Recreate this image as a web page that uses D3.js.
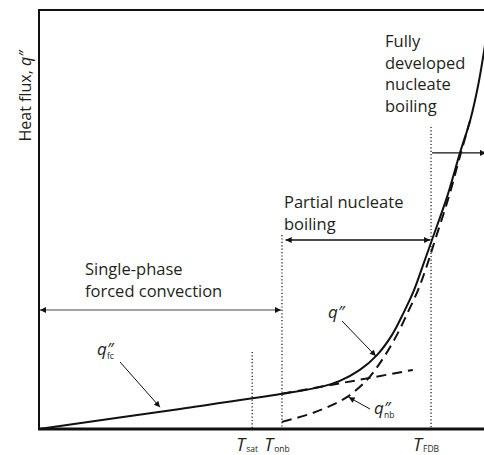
<!DOCTYPE html>
<html>
<head>
<meta charset="utf-8">
<script src="https://cdn.jsdelivr.net/npm/d3@7"></script>
<style>
  html, body { margin: 0; padding: 0; background: #fff; }
  svg text { font-family: "Open Sans", "Noto Sans", sans-serif; fill: #231f20; }
</style>
</head>
<body>
<svg id="chart" width="484" height="455"></svg>
<script>
// wall temperature (0-100) vs heat flux (0-100)
const qTotal = [[0, 0], [31.7, 4.8], [54.6, 8.4], [63.1, 10.0], [67.6, 11.5], [72.1, 14.1],
  [76.0, 17.7], [79.3, 22.4], [82.0, 27.9], [84.3, 33.2], [86.3, 39.1], [88.3, 45.1],
  [91.7, 55.4], [94.6, 65.9], [96.9, 73.7], [98.7, 82.1], [100.4, 92.8]];
const qFc = [[54.6, 8.4], [67.6, 10.9], [74.4, 12.2], [84.0, 14.1]];
const qNb = [[54.6, 1.7], [60.9, 3.6], [65.4, 5.5], [69.2, 7.6], [73.7, 11.7], [77.1, 16.5],
  [80.4, 22.4], [82.9, 27.9], [85.2, 33.2], [87.2, 39.1], [89.0, 45.1], [92.1, 55.4],
  [94.8, 65.9], [96.9, 73.7]];
const tMarks = [
  { name: 'sat', t: 47.9, top: 18.4 },
  { name: 'onb', t: 54.6, top: 46.3 },
  { name: 'FDB', t: 88.1, top: 72.1 }
];
const regions = [
  { from: 0, to: 54.6, q: 28.4, lines: ['Single-phase', 'forced convection'] },
  { from: 55.2, to: 88.1, q: 45.1, lines: ['Partial nucleate', 'boiling'] },
  { from: 88.1, to: 100, q: 65.9, lines: ['Fully', 'developed', 'nucleate', 'boiling'] }
];

const svg = d3.select('#chart');

var x = d3.scaleLinear().domain([0, 100]).range([39, 484]);
var y = d3.scaleLinear().domain([0, 100]).range([429, 10]);

const defs = svg.append('defs');
function marker(id, w, h, orient) {
  defs.append('marker')
    .attr('id', id)
    .attr('viewBox', '0 0 10 10')
    .attr('refX', 10).attr('refY', 5)
    .attr('markerWidth', w).attr('markerHeight', h)
    .attr('markerUnits', 'userSpaceOnUse')
    .attr('orient', orient)
    .append('path')
    .attr('d', 'M0,0 L10,5 L0,10 Z')
    .attr('fill', '#111');
}
marker('head', 10, 6, 'auto-start-reverse');
marker('headSmall', 9, 6, 'auto');

// frame
svg.append('path')
  .attr('d', 'M' + x(100) + ',' + y(100) + 'H' + x(0) + 'V' + y(0))
  .attr('fill', 'none').attr('stroke', '#111').attr('stroke-width', 2);
svg.append('line')
  .attr('x1', x(0) - 1).attr('x2', x(100))
  .attr('y1', y(0)).attr('y2', y(0))
  .attr('stroke', '#111').attr('stroke-width', 3);

// dotted markers
svg.selectAll('.tline').data(tMarks).enter().append('line')
  .attr('class', 'tline')
  .attr('x1', d => x(d.t)).attr('x2', d => x(d.t))
  .attr('y1', d => y(d.top)).attr('y2', y(0))
  .attr('stroke', '#111').attr('stroke-width', 1.2)
  .attr('stroke-dasharray', '1.2,2.2');

const line = d3.line().x(d => x(d[0])).y(d => y(d[1])).curve(d3.curveCatmullRom.alpha(0.5));

svg.append('path').datum(qFc)
  .attr('d', line).attr('fill', 'none')
  .attr('stroke', '#111').attr('stroke-width', 2)
  .attr('stroke-dasharray', '10,6');
svg.append('path').datum(qNb)
  .attr('d', line).attr('fill', 'none')
  .attr('stroke', '#111').attr('stroke-width', 2)
  .attr('stroke-dasharray', '10,6');
svg.append('path').datum(qTotal)
  .attr('d', line).attr('fill', 'none')
  .attr('stroke', '#111').attr('stroke-width', 2);

// region arrows
svg.selectAll('.reg').data(regions).enter().append('line')
  .attr('class', 'reg')
  .attr('x1', d => x(d.from) + 1).attr('x2', (d, i) => i === 2 ? x(d.to) + 2 : x(d.to) - 1)
  .attr('y1', d => y(d.q)).attr('y2', d => y(d.q))
  .attr('stroke', (d, i) => i === 0 ? '#444' : '#111')
  .attr('stroke-width', (d, i) => i === 1 ? 1.5 : 1.2)
  .attr('marker-start', (d, i) => i === 2 ? null : 'url(#head)')
  .attr('marker-end', 'url(#head)');

// region labels
const labelPos = [[85, 275], [284, 208], [385, 47]];
regions.forEach((r, i) => {
  const t = svg.append('text')
    .attr('x', labelPos[i][0]).attr('y', labelPos[i][1])
    .style('font-size', '16.5px');
  r.lines.forEach((l, j) => {
    t.append('tspan').attr('x', labelPos[i][0]).attr('dy', j === 0 ? 0 : 21.7).text(l);
  });
});

// axis title
svg.append('text')
  .attr('transform', 'translate(31,' + 96 + ') rotate(-90)')
  .attr('text-anchor', 'middle')
  .style('font-size', '16px')
  .call(t => {
    t.append('tspan').text('Heat flux, ');
    t.append('tspan').style('font-style', 'italic').text('q\u2033');
  });

// temperature labels
svg.selectAll('.tlab').data(tMarks).enter().append('text')
  .attr('class', 'tlab')
  .attr('x', d => x(d.t) - 5).attr('y', 451)
  .attr('text-anchor', 'middle')
  .call(t => {
    t.append('tspan').style('font-style', 'italic').style('font-size', '18px').text('T');
    t.append('tspan').style('font-size', '8.5px').attr('dx', 1).attr('dy', 1).text(d => d.name);
  });

// curve annotations
function qLabel(px, py, sub) {
  const t = svg.append('text').attr('x', px).attr('y', py);
  t.append('tspan').style('font-style', 'italic').style('font-size', '17px').text('q\u2033');
  if (sub) {
    t.append('tspan').style('font-size', '8.5px').attr('x', px + 10).attr('dy', 4).text(sub);
  }
}
function pointer(x1, y1, x2, y2) {
  svg.append('line')
    .attr('x1', x1).attr('y1', y1).attr('x2', x2).attr('y2', y2)
    .attr('stroke', '#111').attr('stroke-width', 1)
    .attr('marker-end', 'url(#headSmall)');
}
qLabel(97, 355, 'fc');
pointer(120, 362, x(27.2), y(5.2));
qLabel(328, 318, null);
pointer(342, 321, x(75.7), y(17.4));
qLabel(374, 414, 'nb');
pointer(370, 409, x(69.6), y(7.6));
</script>
</body>
</html>
